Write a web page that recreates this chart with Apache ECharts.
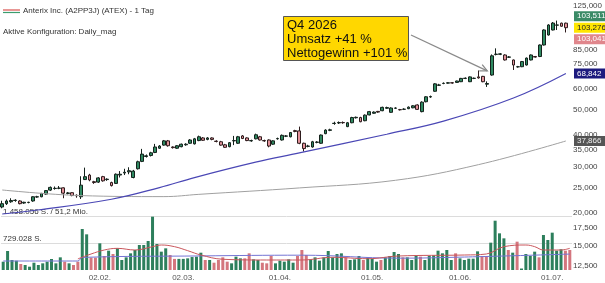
<!DOCTYPE html>
<html>
<head>
<meta charset="utf-8">
<script src="https://cdn.jsdelivr.net/npm/echarts@6/dist/echarts.min.js"></script>
<style>
  html, body { margin: 0; padding: 0; background: #fff; }
  #chart { width: 605px; height: 283px; }
</style>
</head>
<body>
<div id="chart"></div>
<script>
// trading days (NYSE) from 30.12.2025
const startDay = '2025-12-30';
const dayCount = 130;
const holidays = ['2026-01-01', '2026-01-19', '2026-02-16', '2026-04-03', '2026-05-25', '2026-06-19', '2026-07-03'];
const tickDates = ['02.02.', '02.03.', '01.04.', '01.05.', '01.06.', '01.07.'];
const priceTicks = [12.5, 15, 17.5, 20, 25, 30, 35, 40, 50, 60, 75, 85, 125];

// [open, close, low, high]
const candles = [
  [21.10,21.73,20.86,22.30],[21.73,22.25,21.48,22.55],[22.10,22.35,21.90,22.80],[22.35,22.40,22.10,22.60],
  [22.25,21.73,21.60,22.40],[21.85,22.00,21.70,22.10],[21.95,22.00,21.80,22.10],[22.25,23.10,22.10,23.20],
  [23.05,23.10,22.90,23.30],[23.10,23.80,23.00,23.90],[23.65,24.40,23.50,24.50],[24.50,25.10,24.30,25.30],
  [24.85,24.90,24.60,25.30],[24.90,24.95,24.70,25.40],[25.00,23.85,22.80,25.10],[23.80,23.90,23.60,24.10],
  [23.95,23.35,23.20,24.00],[23.40,23.30,22.90,23.60],[23.10,25.60,22.65,27.70],[26.90,27.60,26.80,29.90],
  [28.00,26.80,26.50,28.30],[26.40,26.20,25.90,26.60],[26.30,27.30,26.10,27.50],[27.60,26.60,26.40,27.80],
  [26.90,27.00,26.60,27.20],[26.20,25.50,25.30,26.40],[26.00,28.20,25.90,28.40],[28.00,28.20,27.40,29.00],
  [28.50,28.70,28.00,29.60],[28.80,29.10,28.20,30.00],[27.40,29.00,27.20,29.30],[29.60,31.50,29.40,31.80],
  [31.60,33.70,31.40,35.30],[33.00,33.20,32.70,33.60],[33.30,34.10,33.00,34.40],[34.20,35.90,34.00,36.90],
  [35.50,36.20,35.30,36.50],[36.50,37.90,36.30,38.20],[37.90,36.30,36.00,38.20],[35.90,35.70,35.40,36.10],
  [35.50,36.30,35.30,36.50],[36.00,36.80,35.80,37.00],[36.60,36.80,36.30,37.10],[37.10,38.20,36.90,38.50],
  [36.90,38.60,36.70,38.90],[38.00,39.30,37.80,39.70],[38.90,38.10,37.90,39.20],[38.40,38.90,38.10,39.20],
  [38.90,38.40,38.10,39.10],[37.80,37.70,37.40,38.10],[37.60,36.50,36.30,37.90],[36.60,35.80,35.60,36.90],
  [36.00,37.30,35.80,37.50],[37.90,38.00,36.50,39.60],[37.10,39.30,36.90,39.60],[39.60,38.70,38.50,39.90],
  [38.90,38.00,37.80,39.10],[37.90,38.00,37.60,38.30],[38.60,40.00,38.40,40.40],[39.30,38.20,38.00,39.60],
  [38.00,37.90,37.60,38.30],[38.20,36.20,35.80,38.40],[36.80,37.90,36.60,38.10],[38.60,38.70,38.30,39.00],
  [38.20,39.80,38.00,40.10],[39.50,39.60,39.20,39.90],[39.30,40.80,39.10,41.00],[41.50,41.20,40.90,41.80],
  [41.40,37.10,36.80,43.00],[37.10,35.40,34.50,37.30],[36.10,36.20,35.80,36.60],[35.90,37.60,35.70,37.90],
  [37.40,37.50,37.10,37.80],[37.10,39.90,36.90,40.10],[40.40,41.70,40.20,42.00],[41.60,41.80,41.30,42.20],
  [44.20,44.30,43.70,44.90],[44.40,44.60,44.00,45.00],[44.60,44.50,44.10,45.00],[43.00,44.50,42.80,44.80],
  [44.50,46.60,44.30,46.90],[46.50,46.70,46.20,47.00],[46.60,44.90,44.70,46.90],[45.30,47.60,45.10,47.90],
  [47.70,49.10,47.50,49.40],[48.40,48.90,48.20,49.20],[49.20,48.90,48.60,49.40],[49.50,51.00,49.30,51.30],
  [50.60,50.90,50.30,51.30],[48.80,50.70,48.60,51.00],[50.60,50.70,50.30,51.00],[50.00,49.90,49.60,50.30],
  [50.10,50.20,49.80,50.60],[50.40,51.10,50.20,51.40],[50.80,51.70,50.60,52.00],[52.10,50.10,49.90,52.40],
  [49.10,53.40,48.80,53.80],[53.60,56.00,53.30,56.30],[55.90,56.10,55.50,56.60],[58.80,62.80,58.50,63.20],
  [62.00,62.20,61.60,62.80],[63.00,63.10,62.60,63.60],[63.20,63.40,62.90,63.80],[63.40,63.30,62.90,63.80],
  [63.60,64.40,63.30,64.60],[64.00,65.90,63.80,66.20],[65.90,66.00,65.50,66.50],[64.00,66.80,63.80,67.10],
  [65.90,66.00,65.50,66.40],[66.80,66.20,65.80,70.70],[67.10,64.00,63.70,67.40],[62.60,63.00,61.10,64.20],
  [67.90,80.50,67.50,81.50],[81.50,81.70,80.80,86.00],[81.60,81.90,81.00,82.50],[81.10,77.60,77.20,81.60],
  [79.50,79.70,79.00,80.30],[77.60,74.20,71.00,77.90],[73.00,73.10,72.50,73.60],[73.10,76.50,72.80,76.90],
  [74.20,78.90,73.90,79.30],[77.60,81.10,77.30,81.50],[80.00,79.60,79.20,80.40],[80.00,88.60,79.60,89.00],
  [88.60,101.20,88.20,101.80],[96.80,105.80,96.30,106.50],[101.20,107.60,100.80,108.60],[105.60,105.80,101.20,110.00],
  [107.50,104.60,104.20,108.00],[107.50,103.28,99.00,108.00]
];

// shares, thousands
const volumes = [
  224,513,270,251,162,135,90,197,135,180,224,297,180,342,224,180,135,224,1107,963,
  333,333,720,378,522,432,585,270,342,450,540,675,675,783,1440,702,495,585,405,300,
  300,300,315,350,360,467,270,270,197,270,342,225,180,360,315,315,450,288,270,197,
  180,378,180,252,225,288,197,378,540,405,288,342,252,342,513,342,432,450,342,270,
  288,378,270,342,306,225,270,342,378,486,432,342,342,270,396,360,270,378,396,522,
  450,540,270,450,315,270,306,306,504,378,378,738,1331,990,855,540,468,765,40,432,
  378,495,342,945,810,1008,522,560,522,540
];

// moving averages: [day index, value]
const maBlue = [[0,19.83],[8,20.54],[25,22.6],[36,25.06],[44,27.38],[58,31.39],[68,34.07],[88,40.2],[101,45.14],[117,55.39],[129,68.842]];
const maGray = [[0,24.53],[18,23.34],[37,23.13],[45,23.6],[68,24.98],[90,26.73],[109,30.7],[129,37.866]];
const volMaRed = [[17,300],[20,432],[23,540],[26,585],[30,540],[34,630],[36,675],[39,630],[42,522],[45,405],[50,290],[60,270],[68,270],[75,343],[83,305],[90,378],[105,405],[110,432],[114,630],[119,675],[121,630],[123,540],[127,540],[129,585]];
const volMaBlue = [[0,243],[17,243],[18,340],[45,380],[68,400],[90,320],[105,350],[129,430]];

const volTop = 1458056;
const lastTags = ['103,511', '103,276', '103,041'];
const lastPrice = 103.276;

// build category dates
const dates = [];
{
  const d = new Date(startDay + 'T00:00:00Z');
  while (dates.length < dayCount) {
    const iso = d.toISOString().slice(0, 10);
    const wd = d.getUTCDay();
    if (wd !== 0 && wd !== 6 && !holidays.includes(iso)) {
      dates.push(iso.slice(8, 10) + '.' + iso.slice(5, 7) + '.');
    }
    d.setUTCDate(d.getUTCDate() + 1);
  }
}

const upColor = '#2f8a62', downColor = '#e3929a';
const volUp = '#2d7f5c', volDown = '#d4767e';
const font = 'Liberation Sans, Arial, sans-serif';
const fmt = v => v.toFixed(3).replace('.', ',');

const volData = volumes.map((v, i) => ({
  value: v * 1000,
  itemStyle: { color: candles[i][1] >= candles[i][0] ? volUp : volDown }
}));

const chart = echarts.init(document.getElementById('chart'));
chart.setOption({
  animation: false,
  textStyle: { fontFamily: font },
  grid: [
    { left: 0, right: 33, top: 0, height: 270 },
    { left: 0, right: 33, top: 216, height: 54 }
  ],
  xAxis: [
    { type: 'category', data: dates, gridIndex: 0, show: false },
    {
      type: 'category', data: dates, gridIndex: 1,
      axisLine: { show: false }, axisTick: { show: false },
      axisLabel: {
        interval: (i, v) => tickDates.includes(v),
        fontSize: 8, color: '#555', margin: 4, fontFamily: font
      }
    }
  ],
  yAxis: [
    {
      type: 'log', gridIndex: 0, position: 'right', min: 12.075, max: 131.98,
      axisLine: { show: false }, axisTick: { show: false }, splitLine: { show: false },
      axisLabel: { customValues: priceTicks, formatter: fmt, fontSize: 8, color: '#444', margin: 5, fontFamily: font }
    },
    {
      type: 'value', gridIndex: 1, min: 0, max: volTop, interval: volTop / 2,
      axisLine: { show: false }, axisTick: { show: false },
      splitLine: { lineStyle: { color: ['transparent', '#dcdcdc', '#dcdcdc'], width: 1 } },
      axisLabel: {
        inside: true, verticalAlign: 'bottom', margin: 2, fontSize: 8, color: '#333', fontFamily: font,
        formatter: v => v === volTop ? '1.458.056 S. / 51,2 Mio.' : (v === volTop / 2 ? '729.028 S.' : '')
      }
    }
  ],
  series: [
    { type: 'bar', xAxisIndex: 1, yAxisIndex: 1, data: volData, barWidth: 3 },
    { type: 'line', xAxisIndex: 1, yAxisIndex: 1, data: volMaBlue.map(p => [p[0], p[1] * 1000]), smooth: 0.4, symbol: 'none', lineStyle: { color: '#7474d4', width: 1 } },
    { type: 'line', xAxisIndex: 1, yAxisIndex: 1, data: volMaRed.map(p => [p[0], p[1] * 1000]), smooth: 0.4, symbol: 'none', lineStyle: { color: '#c9565c', width: 1 } },
    { type: 'line', xAxisIndex: 0, yAxisIndex: 0, data: maGray, smooth: 0.4, symbol: 'none', lineStyle: { color: '#a0a0a0', width: 1 } },
    { type: 'line', xAxisIndex: 0, yAxisIndex: 0, data: maBlue, smooth: 0.4, symbol: 'none', lineStyle: { color: '#4a47b5', width: 1.2 } },
    {
      type: 'candlestick', xAxisIndex: 0, yAxisIndex: 0, data: candles, barWidth: 3.3,
      itemStyle: { color: upColor, color0: downColor, borderColor: '#15221c', borderColor0: '#2e1c1d', borderWidth: 1 }
    }
  ]
});

// annotations
const yOf = v => chart.convertToPixel({ yAxisIndex: 0 }, v);
const tag = (y, text, bg, fg) => ({
  type: 'group', children: [
    { type: 'rect', shape: { x: 574, y: y - 5, width: 34, height: 10 }, style: { fill: bg } },
    { type: 'text', style: { x: 577, y: y, text: text, fill: fg, fontSize: 8, fontFamily: font, verticalAlign: 'middle' } }
  ]
});
const yLast = yOf(lastPrice);
const target = chart.convertToPixel({ xAxisIndex: 0, yAxisIndex: 0 }, [111, 70.5]);
const from = [411, 35];
const dx = target[0] - from[0], dy = target[1] - from[1];
const len = Math.sqrt(dx * dx + dy * dy), ux = dx / len, uy = dy / len;
const head = (a) => [target[0] - 8 * (ux * Math.cos(a) - uy * Math.sin(a)), target[1] - 8 * (uy * Math.cos(a) + ux * Math.sin(a))];

chart.setOption({
  graphic: [
    { type: 'line', shape: { x1: 3, y1: 10, x2: 20, y2: 10 }, style: { stroke: '#d9534f', lineWidth: 1.2 } },
    { type: 'line', shape: { x1: 3, y1: 12.5, x2: 20, y2: 12.5 }, style: { stroke: '#3c9d6e', lineWidth: 1.2 } },
    { type: 'text', style: { x: 23, y: 11, text: 'Anterix Inc. (A2PP3J) (ATEX) - 1 Tag', fill: '#333', fontSize: 8, fontFamily: font, verticalAlign: 'middle' } },
    { type: 'text', style: { x: 3, y: 32, text: 'Aktive Konfiguration: Daily_mag', fill: '#333', fontSize: 8, fontFamily: font, verticalAlign: 'middle' } },
    tag(yLast - 11.5, lastTags[0], '#3a8a66', '#fff'),
    tag(yLast, lastTags[1], '#ffe600', '#222'),
    tag(yLast + 11.5, lastTags[2], '#e0868c', '#fff'),
    tag(yOf(maBlue[maBlue.length - 1][1]), fmt(maBlue[maBlue.length - 1][1]), '#1d1a7e', '#fff'),
    tag(yOf(maGray[maGray.length - 1][1]), fmt(maGray[maGray.length - 1][1]), '#555', '#eee'),
    { type: 'polyline', shape: { points: [from, target] }, style: { stroke: '#8a8a8a', lineWidth: 1.3, fill: null } },
    { type: 'polyline', shape: { points: [head(0.45), target, head(-0.45)] }, style: { stroke: '#8a8a8a', lineWidth: 1.3, fill: null } },
    { type: 'rect', shape: { x: 283.5, y: 16.5, width: 125, height: 44 }, style: { fill: '#ffd700', stroke: '#555', lineWidth: 1 } },
    { type: 'text', style: { x: 287, y: 18, text: 'Q4 2026\nUmsatz +41 %\nNettogewinn +101 %', fill: '#111', fontSize: 13, lineHeight: 14, fontFamily: font } }
  ]
});
</script>
</body>
</html>
